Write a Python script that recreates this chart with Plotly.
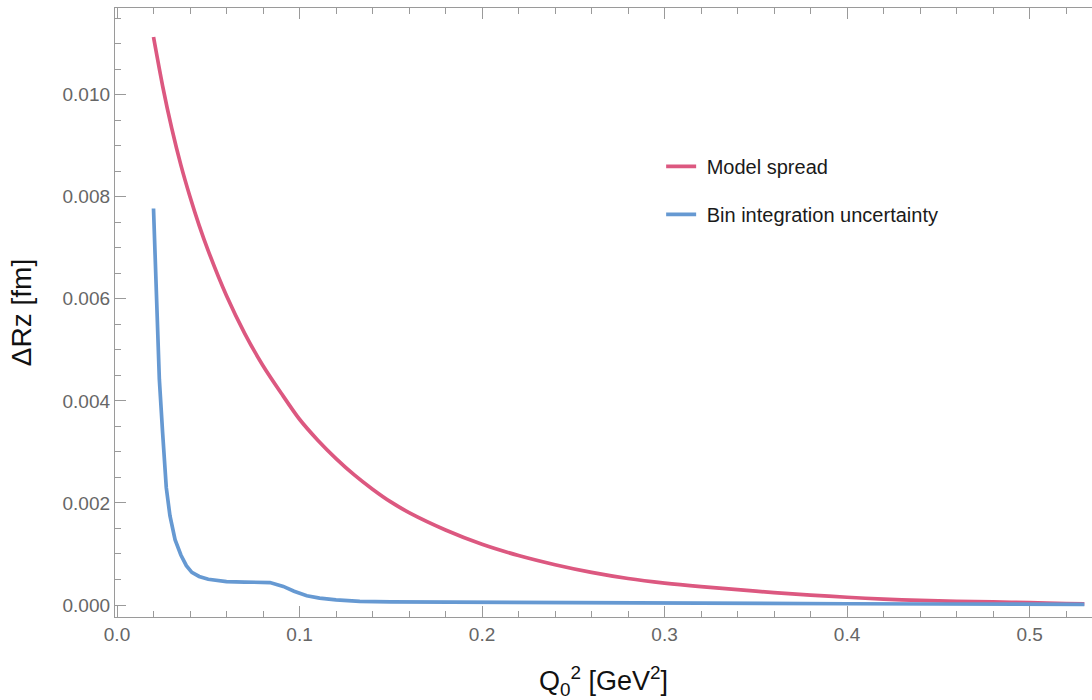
import plotly.graph_objects as go

# ---- data ----
model_q2 = [0.02, 0.025, 0.03, 0.035, 0.04, 0.045, 0.05, 0.06, 0.07, 0.08, 0.09,
            0.10, 0.11, 0.12, 0.13, 0.14, 0.15, 0.16, 0.18, 0.20, 0.22, 0.24,
            0.26, 0.28, 0.30, 0.32, 0.34, 0.36, 0.38, 0.40, 0.42, 0.44, 0.46,
            0.48, 0.50, 0.52, 0.53]
model_spread = [0.01113, 0.01017, 0.00934, 0.00862, 0.00800, 0.00744, 0.00694,
                0.00606, 0.00532, 0.00469, 0.00415, 0.00364, 0.00323, 0.00287,
                0.00255, 0.00227, 0.00202, 0.00181, 0.00147, 0.00119, 0.00097,
                0.00079, 0.00064, 0.00052, 0.00043, 0.00036, 0.000301, 0.000244,
                0.000194, 0.000152, 0.000115, 0.00009, 0.000073, 0.00006,
                0.000045, 0.00003, 0.000024]

bin_q2 = [0.02, 0.0232, 0.025, 0.027, 0.029, 0.0318, 0.035, 0.038, 0.041, 0.045,
          0.05, 0.055, 0.06, 0.07, 0.08, 0.0838, 0.0911, 0.097, 0.104, 0.111,
          0.12, 0.133, 0.15, 0.20, 0.25, 0.30, 0.35, 0.40, 0.45, 0.50, 0.53]
bin_unc = [0.00777, 0.00442, 0.00337, 0.00230, 0.00175, 0.00128, 0.00098,
           0.00077, 0.00064, 0.00056, 0.000505, 0.00048, 0.00046, 0.00045,
           0.000445, 0.00044, 0.000365, 0.00027, 0.00018, 0.000135, 0.0001,
           0.00007, 0.00006, 0.00005, 0.000042, 0.000035, 0.00003, 0.000025,
           0.00002, 0.000015, 0.000012]

series_names = ["Model spread", "Bin integration uncertainty"]
RED = "rgb(220,88,128)"
BLUE = "rgb(102,153,210)"
FONT = "Liberation Sans, Arial, sans-serif"
FRAME = "#9a9a9a"
TICKTXT = "#666666"

fig = go.Figure()
fig.add_trace(go.Scatter(x=model_q2, y=model_spread, mode="lines",
                         name="&nbsp;" + series_names[0],
                         line=dict(color=RED, width=3.7, shape="spline", smoothing=0.8),
                         legendgroup="a"))
fig.add_trace(go.Scatter(x=bin_q2, y=bin_unc, mode="lines",
                         name="&nbsp;" + series_names[1],
                         line=dict(color=BLUE, width=3.7), legendgroup="b"))

fig.update_layout(
    width=1092, height=700,
    margin=dict(l=115, r=0, t=8, b=83, autoexpand=False),
    paper_bgcolor="white", plot_bgcolor="white",
    font=dict(family=FONT, size=19, color=TICKTXT),
    legend=dict(x=0.559, y=0.772, xanchor="left", yanchor="top",
                font=dict(family=FONT, size=20, color="#1a1a1a"),
                itemwidth=30, tracegroupgap=19, bgcolor="rgba(0,0,0,0)"),
    xaxis=dict(range=[-0.0011, 0.5342], tick0=0, dtick=0.1, tickformat=".1f",
               showgrid=False, zeroline=False, showline=True, linecolor=FRAME,
               linewidth=1.3, mirror="ticks", ticks="inside", ticklen=11,
               tickcolor=FRAME, tickwidth=1.3,
               minor=dict(dtick=0.02, ticks="inside", ticklen=6, tickcolor=FRAME,
                          tickwidth=1, showgrid=False),
               tickfont=dict(family=FONT, size=19, color=TICKTXT),
               title=dict(text="Q<sub>0</sub><sup>2</sup> [GeV<sup>2</sup>]",
                          font=dict(family=FONT, size=27, color="#111111"),
                          standoff=27)),
    yaxis=dict(range=[-0.000235, 0.011699], tick0=0, dtick=0.002, tickformat=".3f",
               showgrid=False, zeroline=False, showline=True, linecolor=FRAME,
               linewidth=1.3, mirror=False, ticks="inside", ticklen=11,
               tickcolor=FRAME, tickwidth=1.3,
               minor=dict(dtick=0.0005, ticks="inside", ticklen=6, tickcolor=FRAME,
                          tickwidth=1, showgrid=False),
               tickfont=dict(family=FONT, size=19, color=TICKTXT),
               title=dict(text="ΔRz [fm]",
                          font=dict(family=FONT, size=28, color="#111111"),
                          standoff=22)),
)

fig.write_html("out.html")
